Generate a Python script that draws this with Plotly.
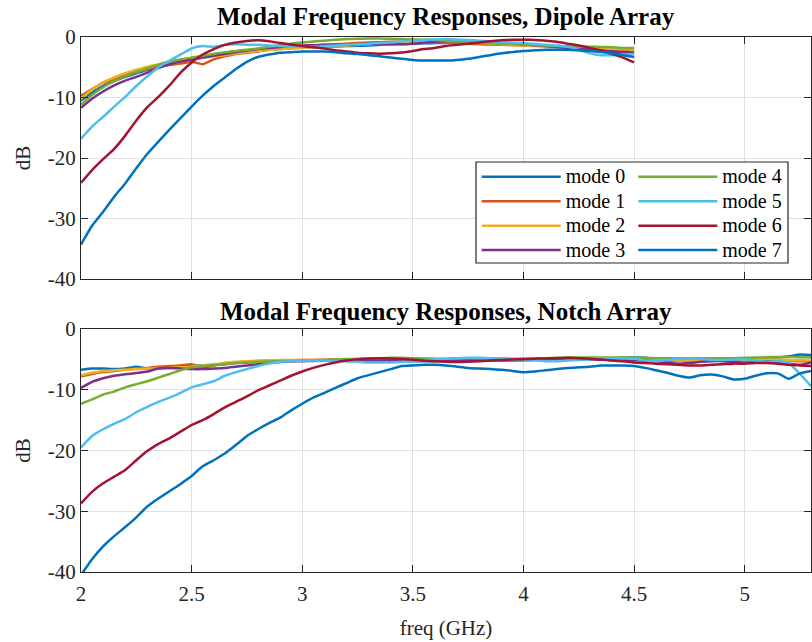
import plotly.graph_objects as go

# Frequency grids (GHz)
freq_dipole = [2.00, 2.05, 2.10, 2.15, 2.20, 2.25, 2.30, 2.35, 2.40, 2.45,
               2.50, 2.55, 2.60, 2.65, 2.70, 2.75, 2.80, 2.85, 2.90, 2.95,
               3.00, 3.05, 3.10, 3.15, 3.20, 3.25, 3.30, 3.35, 3.40, 3.45,
               3.50, 3.55, 3.60, 3.65, 3.70, 3.75, 3.80, 3.85, 3.90, 3.95,
               4.00, 4.05, 4.10, 4.15, 4.20, 4.25, 4.30, 4.35, 4.40, 4.45,
               4.50]
freq_notch = freq_dipole + [4.55, 4.60, 4.65, 4.70, 4.75, 4.80, 4.85, 4.90, 4.95,
                            5.00, 5.05, 5.10, 5.15, 5.20, 5.25, 5.30]

# Dipole array modal responses (dB)
dipole_mode0 = [-10.5, -9.2, -8.1, -7.3, -6.6, -6.0, -5.4, -5.0, -4.6, -4.2,
                -3.8, -3.4, -3.1, -2.8, -2.5, -2.3, -2.2, -2.1, -2.0, -1.85,
                -1.7, -1.65, -1.6, -1.55, -1.5, -1.45, -1.4, -1.3, -1.2, -1.15,
                -1.1, -1.05, -1.0, -1.0, -1.0, -1.05, -1.1, -1.15, -1.2, -1.25,
                -1.3, -1.4, -1.5, -1.55, -1.6, -1.8, -2.0, -2.15, -2.3, -2.45,
                -2.6]
dipole_mode1 = [-9.7, -8.6, -7.6, -6.9, -6.2, -5.7, -5.3, -4.9, -4.6, -4.4,
                -4.1, -4.5, -3.7, -3.2, -2.8, -2.6, -2.4, -2.1, -1.9, -1.75,
                -1.6, -1.45, -1.3, -1.2, -1.1, -1.0, -0.9, -0.85, -0.8, -0.8,
                -0.8, -0.85, -0.9, -0.95, -1.0, -1.1, -1.2, -1.25, -1.3, -1.35,
                -1.4, -1.45, -1.5, -1.55, -1.6, -1.7, -1.8, -1.9, -2.0, -2.1,
                -2.2]
dipole_mode2 = [-10.2, -8.7, -7.5, -6.7, -6.0, -5.4, -4.9, -4.5, -4.1, -3.8,
                -3.6, -3.4, -3.2, -3.0, -2.7, -2.5, -2.3, -2.15, -2.0, -1.9,
                -1.8, -1.7, -1.6, -1.5, -1.4, -1.3, -1.2, -1.1, -1.0, -0.9,
                -0.8, -0.75, -0.7, -0.75, -0.8, -0.9, -1.0, -1.1, -1.2, -1.3,
                -1.4, -1.5, -1.6, -1.7, -1.75, -1.8, -1.85, -1.9, -1.95, -2.0,
                -2.1]
dipole_mode3 = [-11.7, -10.2, -9.0, -8.0, -7.2, -6.6, -5.9, -5.1, -4.5, -4.0,
                -3.7, -3.4, -3.1, -2.8, -2.5, -2.25, -2.0, -1.8, -1.65, -1.5,
                -1.4, -1.35, -1.3, -1.3, -1.3, -1.2, -1.1, -1.15, -1.2, -1.2,
                -1.1, -0.95, -0.8, -0.7, -0.7, -0.75, -0.8, -0.9, -1.0, -1.1,
                -1.2, -1.35, -1.5, -1.65, -1.8, -1.95, -2.1, -2.25, -2.4, -2.55,
                -2.6]
dipole_mode4 = [-11.2, -9.6, -8.3, -7.3, -6.5, -5.8, -5.2, -4.6, -4.1, -3.7,
                -3.4, -3.1, -2.8, -2.5, -2.3, -2.1, -1.9, -1.6, -1.35, -1.1,
                -0.9, -0.75, -0.6, -0.45, -0.35, -0.3, -0.25, -0.25, -0.3, -0.35,
                -0.4, -0.45, -0.5, -0.6, -0.7, -0.8, -0.9, -1.0, -1.1, -1.15,
                -1.2, -1.3, -1.4, -1.5, -1.55, -1.6, -1.6, -1.65, -1.7, -1.8,
                -1.8]
dipole_mode5 = [-16.8, -14.8, -13.2, -11.5, -9.9, -8.1, -6.5, -5.0, -3.9, -2.9,
                -1.9, -1.5, -1.6, -1.3, -1.2, -1.3, -1.3, -1.4, -1.5, -1.6,
                -1.6, -1.6, -1.5, -1.4, -1.3, -1.2, -1.1, -1.0, -0.9, -0.75,
                -0.6, -0.5, -0.4, -0.35, -0.4, -0.5, -0.6, -0.7, -0.8, -0.9,
                -1.0, -1.1, -1.3, -1.4, -1.6, -2.1, -2.7, -3.0, -3.0, -2.9,
                -2.8]
dipole_mode6 = [-24.1, -22.0, -20.2, -18.5, -16.3, -13.8, -11.6, -9.9, -8.0, -5.9,
                -4.2, -2.9, -2.0, -1.3, -0.9, -0.65, -0.55, -0.7, -1.0, -1.25,
                -1.5, -1.7, -1.9, -2.2, -2.4, -2.6, -2.7, -2.75, -2.7, -2.55,
                -2.3, -2.0, -1.8, -1.5, -1.3, -1.1, -0.9, -0.7, -0.55, -0.45,
                -0.45, -0.5, -0.6, -0.8, -1.1, -1.4, -1.8, -2.2, -2.8, -3.4,
                -4.2]
dipole_mode7 = [-34.3, -31.2, -28.9, -26.4, -24.2, -21.7, -19.3, -17.3, -15.3, -13.4,
                -11.5, -9.7, -8.1, -6.7, -5.3, -4.1, -3.3, -2.9, -2.6, -2.5,
                -2.4, -2.4, -2.4, -2.5, -2.7, -2.8, -3.0, -3.2, -3.4, -3.6,
                -3.8, -3.9, -3.9, -3.9, -3.8, -3.6, -3.3, -3.0, -2.7, -2.5,
                -2.3, -2.2, -2.1, -2.1, -2.1, -2.2, -2.3, -2.5, -2.7, -3.0,
                -3.3]

# Notch array modal responses (dB)
notch_mode0 = [-6.7, -6.5, -6.5, -6.6, -6.5, -6.2, -6.5, -6.4, -6.2, -6.1,
               -6.0, -6.0, -5.9, -5.8, -5.6, -5.5, -5.4, -5.35, -5.3, -5.2,
               -5.2, -5.2, -5.2, -5.2, -5.2, -5.2, -5.2, -5.2, -5.25, -5.3,
               -5.3, -5.3, -5.3, -5.25, -5.2, -5.15, -5.1, -5.1, -5.1, -5.1,
               -5.1, -5.1, -5.0, -5.0, -5.0, -5.0, -4.9, -4.8, -4.8, -4.75,
               -4.7, -4.75, -4.9, -5.0, -5.0, -4.9, -4.85, -4.9, -5.0, -5.0,
               -4.9, -4.8, -4.8, -4.7, -4.5, -4.2, -4.3]
notch_mode1 = [-7.8, -7.4, -7.1, -6.9, -6.7, -6.5, -6.4, -6.2, -6.1, -6.0,
               -5.8, -6.3, -6.0, -5.6, -5.5, -5.4, -5.3, -5.2, -5.2, -5.15,
               -5.1, -5.1, -5.05, -5.0, -5.0, -5.0, -5.0, -5.0, -5.0, -5.05,
               -5.1, -5.1, -5.1, -5.1, -5.1, -5.1, -5.15, -5.2, -5.2, -5.15,
               -5.1, -5.05, -5.0, -4.95, -4.9, -4.9, -4.9, -4.95, -5.0, -5.0,
               -5.0, -5.1, -5.2, -5.2, -5.2, -5.2, -5.1, -5.0, -5.0, -5.0,
               -5.0, -5.0, -5.0, -5.1, -5.2, -5.3, -5.3]
notch_mode2 = [-7.6, -7.2, -6.9, -6.8, -6.7, -6.6, -6.5, -6.5, -6.4, -6.3,
               -6.2, -6.0, -5.8, -5.6, -5.4, -5.3, -5.2, -5.15, -5.1, -5.1,
               -5.1, -5.1, -5.15, -5.2, -5.25, -5.3, -5.3, -5.3, -5.25, -5.2,
               -5.15, -5.1, -5.05, -5.0, -5.0, -5.0, -5.0, -5.0, -5.0, -5.0,
               -5.0, -5.0, -4.95, -4.9, -4.9, -4.9, -4.9, -4.95, -5.0, -5.0,
               -5.0, -5.0, -5.0, -5.05, -5.1, -5.1, -5.1, -5.05, -5.0, -5.0,
               -5.0, -5.0, -5.0, -5.05, -5.1, -5.15, -5.2]
notch_mode3 = [-9.7, -8.7, -8.1, -7.7, -7.45, -7.25, -7.0, -6.5, -6.4, -6.5,
               -6.6, -6.6, -6.5, -6.4, -6.2, -6.0, -5.8, -5.6, -5.45, -5.35,
               -5.3, -5.25, -5.2, -5.2, -5.2, -5.2, -5.2, -5.2, -5.2, -5.2,
               -5.2, -5.2, -5.15, -5.1, -5.1, -5.1, -5.1, -5.1, -5.1, -5.1,
               -5.1, -5.1, -5.1, -5.05, -5.0, -5.0, -5.0, -5.05, -5.1, -5.1,
               -5.1, -5.2, -5.3, -5.5, -5.7, -5.6, -5.4, -5.3, -5.3, -5.4,
               -5.5, -5.4, -5.3, -5.4, -5.7, -5.9, -5.5]
notch_mode4 = [-12.3, -11.6, -10.8, -10.3, -9.6, -9.1, -8.6, -8.0, -7.4, -6.8,
               -6.3, -6.1, -5.95, -5.8, -5.6, -5.5, -5.4, -5.35, -5.3, -5.25,
               -5.2, -5.15, -5.1, -5.0, -4.95, -4.9, -4.85, -4.8, -4.75, -4.75,
               -4.8, -4.85, -4.9, -4.9, -4.85, -4.8, -4.8, -4.8, -4.85, -4.9,
               -4.9, -4.85, -4.8, -4.75, -4.7, -4.7, -4.7, -4.7, -4.7, -4.7,
               -4.7, -4.75, -4.8, -4.8, -4.8, -4.8, -4.8, -4.8, -4.8, -4.8,
               -4.75, -4.7, -4.65, -4.6, -4.6, -4.65, -4.7]
notch_mode5 = [-19.5, -17.6, -16.5, -15.6, -14.8, -13.7, -12.8, -12.0, -11.3, -10.5,
               -9.6, -9.1, -8.6, -7.7, -7.1, -6.6, -6.1, -5.7, -5.4, -5.3,
               -5.2, -5.2, -5.2, -5.25, -5.3, -5.4, -5.5, -5.5, -5.5, -5.4,
               -5.3, -5.1, -5.0, -4.9, -4.8, -4.75, -4.75, -4.8, -4.9, -5.0,
               -5.0, -5.1, -5.3, -5.3, -5.2, -5.1, -5.0, -4.9, -4.85, -4.85,
               -4.9, -5.2, -5.3, -5.1, -4.9, -4.8, -4.9, -5.1, -5.1, -5.0,
               -5.0, -5.2, -5.4, -5.3, -5.6, -7.4, -9.4]
notch_mode6 = [-28.7, -26.8, -25.4, -24.3, -23.2, -21.6, -20.1, -18.9, -18.0, -16.9,
               -15.8, -15.0, -14.0, -12.9, -12.0, -11.1, -10.1, -9.3, -8.5, -7.7,
               -7.0, -6.4, -5.9, -5.5, -5.2, -5.0, -4.85, -4.8, -4.85, -4.95,
               -5.05, -5.2, -5.3, -5.4, -5.45, -5.4, -5.3, -5.2, -5.1, -5.0,
               -4.95, -4.9, -4.85, -4.8, -4.75, -4.8, -4.9, -5.0, -5.2, -5.3,
               -5.5, -5.6, -5.7, -5.8, -5.9, -6.0, -6.0, -5.9, -5.8, -5.7,
               -5.7, -5.6, -5.6, -5.7, -5.9, -6.0, -6.1]
notch_mode7 = [-40.5, -37.9, -35.8, -34.1, -32.6, -31.0, -29.2, -27.9, -26.7, -25.5,
               -24.2, -22.6, -21.6, -20.5, -19.1, -17.6, -16.5, -15.5, -14.6, -13.4,
               -12.3, -11.3, -10.5, -9.7, -8.9, -8.1, -7.6, -7.1, -6.6, -6.1,
               -6.0, -5.9, -5.9, -6.0, -6.2, -6.4, -6.5, -6.6, -6.7, -6.9,
               -7.1, -7.0, -6.8, -6.6, -6.4, -6.3, -6.2, -6.0, -6.0, -6.0,
               -6.1, -6.4, -6.8, -7.2, -7.7, -8.0, -7.6, -7.5, -7.8, -8.3,
               -8.2, -7.7, -7.3, -7.3, -8.2, -7.3, -6.9]

mode_names = ["mode 0", "mode 1", "mode 2", "mode 3",
              "mode 4", "mode 5", "mode 6", "mode 7"]
mode_colors = ["#0072BD", "#D95319", "#EDB120", "#7E2F8E",
               "#77AC30", "#4DBEEE", "#A2142F", "#0072BD"]
x_ticks = [2, 2.5, 3, 3.5, 4, 4.5, 5]
x_ticktext = ["2", "2.5", "3", "3.5", "4", "4.5", "5"]
y_ticks = [-40, -30, -20, -10, 0]
y_ticktext = ["-40", "-30", "-20", "-10", "0"]

dipole_series = [dipole_mode0, dipole_mode1, dipole_mode2, dipole_mode3,
                 dipole_mode4, dipole_mode5, dipole_mode6, dipole_mode7]
notch_series = [notch_mode0, notch_mode1, notch_mode2, notch_mode3,
                notch_mode4, notch_mode5, notch_mode6, notch_mode7]

FONT = "Liberation Serif"
AXIS_COLOR = "#262626"
GRID_COLOR = "#e0e0e0"
LINE_W = 2.5

fig = go.Figure()

for i, ys in enumerate(dipole_series):
    fig.add_trace(go.Scatter(
        x=freq_dipole, y=ys, mode="lines",
        name="<span style='font-size:20px'>" + mode_names[i] + "</span>",
        line=dict(color=mode_colors[i], width=LINE_W, shape="spline", smoothing=0.5),
        xaxis="x", yaxis="y",
        legend="legend" if i < 4 else "legend2",
    ))

for i, ys in enumerate(notch_series):
    fig.add_trace(go.Scatter(
        x=freq_notch, y=ys, mode="lines", name=mode_names[i],
        line=dict(color=mode_colors[i], width=LINE_W, shape="spline", smoothing=0.5),
        xaxis="x2", yaxis="y2", showlegend=False,
    ))

tick_font = dict(family=FONT, size=21, color=AXIS_COLOR)
common_x = dict(range=[2, 5.3], tickvals=x_ticks, ticktext=x_ticktext,
                ticks="inside", ticklen=7, tickwidth=1.2, tickcolor=AXIS_COLOR,
                showline=True, linecolor=AXIS_COLOR, linewidth=1.3, mirror="ticks",
                showgrid=True, gridcolor=GRID_COLOR, gridwidth=1, zeroline=False,
                tickfont=tick_font, domain=[0, 1])
common_y = dict(range=[-40, 0], tickvals=y_ticks, ticktext=y_ticktext,
                ticks="inside", ticklen=7, tickwidth=1.2, tickcolor=AXIS_COLOR,
                showline=True, linecolor=AXIS_COLOR, linewidth=1.3, mirror="ticks",
                showgrid=True, gridcolor=GRID_COLOR, gridwidth=1, zeroline=False,
                tickfont=tick_font,
                title=dict(text="dB", font=dict(family=FONT, size=21, color=AXIS_COLOR),
                           standoff=11))

# Plot area: 81..811 px horizontally, 37..572 px vertically
L, R, T, B = 81, 1, 37, 70
W, H = 812, 642
ph = H - T - B
pw = W - L - R


def py(pix):
    return (H - B - pix) / ph


def px(pix):
    return (pix - L) / pw


legend_style = dict(bgcolor="rgba(0,0,0,0)", borderwidth=0,
                    font=dict(family=FONT, size=16.5, color="#000000"),
                    itemwidth=79, tracegroupgap=0, yanchor="top", xanchor="left",
                    orientation="v")

fig.update_layout(
    width=W, height=H,
    margin=dict(l=L, r=R, t=T, b=B),
    paper_bgcolor="white", plot_bgcolor="white",
    font=dict(family=FONT, color=AXIS_COLOR),
    xaxis=dict(common_x, anchor="y", showticklabels=False),
    yaxis=dict(common_y, anchor="x", domain=[py(279), 1]),
    xaxis2=dict(common_x, anchor="y2", ticklabelstandoff=3,
                title=dict(text="freq (GHz)", font=dict(family=FONT, size=21, color=AXIS_COLOR),
                           standoff=14)),
    yaxis2=dict(common_y, anchor="x2", domain=[0, py(329)]),
    legend=dict(legend_style, x=px(476.7), y=py(159.5)),
    legend2=dict(legend_style, x=px(633.3), y=py(159.5)),
    shapes=[dict(type="rect", xref="paper", yref="paper",
                 x0=px(476), x1=px(788), y0=py(263), y1=py(162),
                 line=dict(color=AXIS_COLOR, width=1.2), fillcolor="white", layer="above")],
    annotations=[
        dict(text="<b>Modal Frequency Responses, Dipole Array</b>", x=0.5, y=py(17),
             xref="paper", yref="paper", xanchor="center", yanchor="middle",
             showarrow=False, font=dict(family=FONT, size=25, color="#000000")),
        dict(text="<b>Modal Frequency Responses, Notch Array</b>", x=0.5, y=py(312),
             xref="paper", yref="paper", xanchor="center", yanchor="middle",
             showarrow=False, font=dict(family=FONT, size=25, color="#000000")),
    ],
    showlegend=True,
)

fig.write_html("out.html")
